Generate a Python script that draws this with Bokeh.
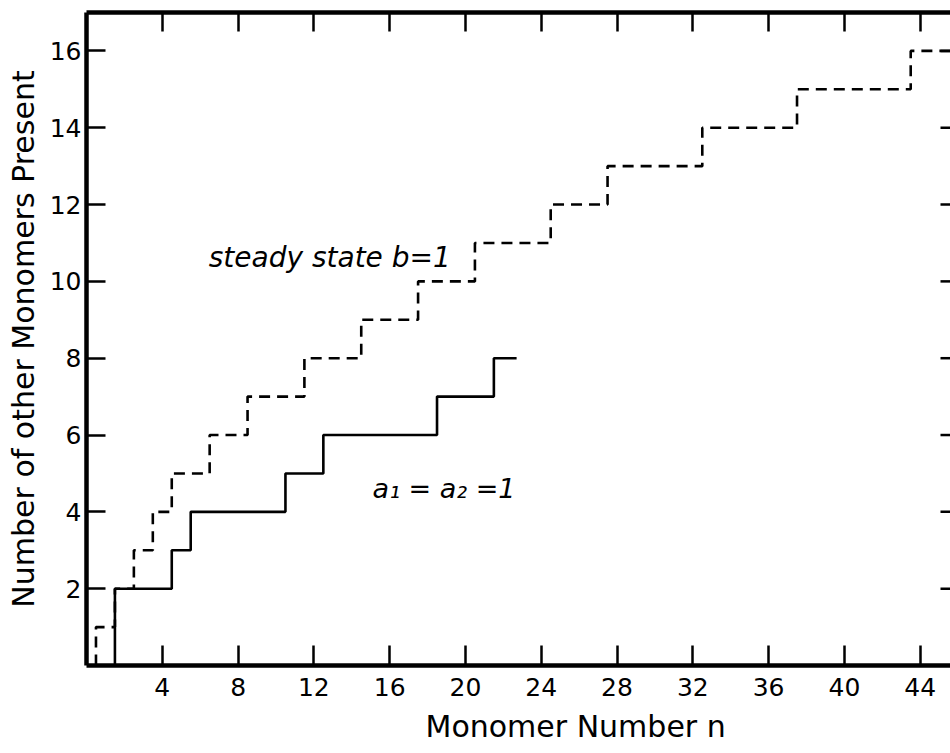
from bokeh.plotting import figure
from bokeh.models import (LinearAxis, FixedTicker, Label, Range1d, Title,
                          CustomLabelingPolicy)
from bokeh.embed import file_html
from bokeh.resources import INLINE

# Steady-state model (b = 1): monomer number where each new count is reached
steady_n = [0.5, 1.5, 2.5, 3.5, 4.5, 6.5, 8.5, 11.5, 14.5, 17.5, 20.5, 24.5, 27.5, 32.5, 37.5, 43.5]
steady_count = [1, 2, 3, 4, 5, 6, 7, 8, 9, 10, 11, 12, 13, 14, 15, 16]
steady_end = 46.0

# Model with a1 = a2 = 1
equal_n = [1.5, 4.5, 5.5, 10.5, 12.5, 18.5, 21.5]
equal_count = [2, 3, 4, 5, 6, 7, 8]
equal_end = 22.7

x_ticks = [4, 8, 12, 16, 20, 24, 28, 32, 36, 40, 44]
y_ticks = [2, 4, 6, 8, 10, 12, 14, 16]

X_MAX = 45.6
FONT = "DejaVu Sans"

p = figure(width=950, height=753, output_backend="svg", toolbar_location=None,
           x_range=Range1d(0, X_MAX), y_range=Range1d(0, 17.0),
           min_border_left=86, min_border_right=0, min_border_top=12,
           min_border_bottom=88)
p.outline_line_color = None
p.grid.visible = False
p.background_fill_color = "white"
p.border_fill_color = "white"

# tick-only frame side: drop every label
no_labels = CustomLabelingPolicy(code="for (const i of indices) indices.unset(i); return indices")

def style_axis(ax, ticks, tick_in, show_labels):
    ax.ticker = FixedTicker(ticks=ticks)
    ax.major_tick_in = tick_in
    ax.major_tick_out = 0
    ax.minor_tick_line_color = None
    ax.major_tick_line_width = 2.5
    ax.major_tick_line_color = "black"
    ax.axis_line_width = 4.5
    ax.axis_line_color = "black"
    if show_labels:
        ax.major_label_text_font = FONT
        ax.major_label_text_font_size = "25px"
        ax.major_label_text_color = "black"
    else:
        ax.major_label_policy = no_labels
        ax.major_label_text_font_size = "1px"
        ax.major_label_standoff = 0

style_axis(p.xaxis[0], x_ticks, 20, True)
p.xaxis[0].major_label_standoff = 12
style_axis(p.yaxis[0], y_ticks, 19, True)
p.yaxis[0].major_label_standoff = 5
p.yaxis[0].axis_label = "Number of other Monomers Present"
p.yaxis[0].axis_label_text_font = FONT
p.yaxis[0].axis_label_text_font_size = "30px"
p.yaxis[0].axis_label_text_font_style = "normal"
p.yaxis[0].axis_label_text_color = "black"
p.yaxis[0].axis_label_standoff = 6

top = LinearAxis()
style_axis(top, x_ticks, 19, False)
p.add_layout(top, "above")

# right-hand frame ticks: dash markers centred on the frame edge,
# so only their inner half shows
p.scatter(x=[X_MAX] * len(y_ticks), y=y_ticks, marker="dash", size=20,
          line_color="black", line_width=2.5)

# x-axis title, placed right of centre under the ticks
p.add_layout(Title(text="Monomer Number  n", text_font=FONT,
                   text_font_size="30px", text_font_style="normal",
                   text_color="black", align="left", offset=339,
                   standoff=16), "below")

# Step curves, drawn as "before" steps starting from the x axis
p.step(x=steady_n + [steady_end], y=[0] + steady_count, mode="before",
       line_color="black", line_width=2.6, line_dash="11 7")
p.step(x=equal_n + [equal_end], y=[0] + equal_count, mode="before",
       line_color="black", line_width=2.6)

p.add_layout(Label(x=6.45, y=10.62, text="steady  state  b=1",
                   text_font=FONT, text_font_style="italic",
                   text_font_size="28px", text_color="black",
                   text_baseline="alphabetic", text_align="left"))
p.add_layout(Label(x=15.1, y=4.61, text="a\u2081 = a\u2082 =1",
                   text_font=FONT, text_font_style="italic",
                   text_font_size="27px", text_color="black",
                   text_baseline="alphabetic", text_align="left"))

open("out.html", "w").write(file_html(p, INLINE))
